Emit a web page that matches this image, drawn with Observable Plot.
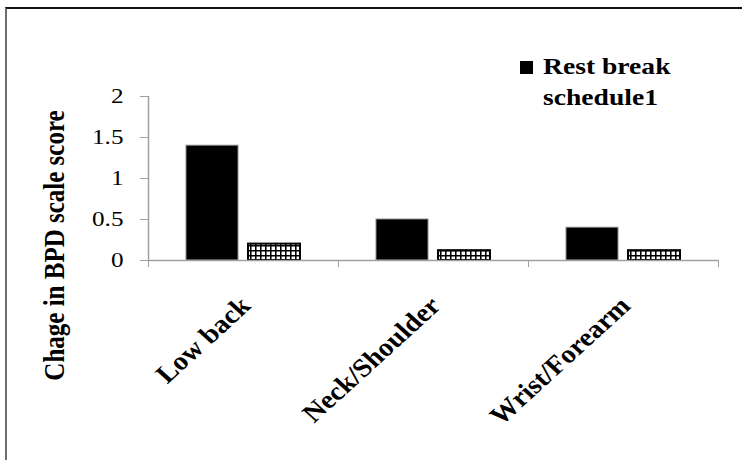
<!DOCTYPE html>
<html><head><meta charset="utf-8">
<script src="https://cdn.jsdelivr.net/npm/d3@7"></script>
<script src="https://cdn.jsdelivr.net/npm/@observablehq/plot@0.6"></script>
<style>
body{margin:0;background:#fff;width:742px;height:460px;overflow:hidden;position:relative;font-family:"Liberation Serif",serif}
#frame{position:absolute;left:5px;top:7px;width:760px;height:470px;border-top:2px solid #111;border-left:2px solid #6e6e6e;}
#chart{position:absolute;left:0;top:0}
.lg{position:absolute;font:bold 23px "Liberation Serif",serif;line-height:26px;white-space:nowrap;transform:scaleX(1.2);transform-origin:left center;color:#000}
.sw{position:absolute;left:520px;top:61px;width:13px;height:13px;background:#000}
</style></head><body>
<div id="frame"></div><div id="chart"></div>
<div class="sw"></div>
<div class="lg" style="left:543px;top:54px">Rest break</div>
<div class="lg" style="left:543px;top:85px">schedule1</div>
<script>
const categories = ["Low back", "Neck/Shoulder", "Wrist/Forearm"];
const series = ["Rest break schedule1", "Rest break schedule2"];
const schedule1 = [1.4, 0.5, 0.4];
const schedule2 = [0.2, 0.12, 0.12];
const yTicks = [0, 0.5, 1, 1.5, 2];
const yLabel = "Chage in BPD scale score";

const rows = categories.flatMap((c, i) => [
  {cat: c, i, s: 0, value: schedule1[i]},
  {cat: c, i, s: 1, value: schedule2[i]}
]);
// layout within each category band (fractions of band)
const outer = 0.2, gap = 0.0526, bw = (1 - 2 * outer - gap) / 2;
const x1 = d => d.i + outer + d.s * (bw + gap);
const x2 = d => x1(d) + bw;

const chart = Plot.plot({
  width: 742, height: 460,
  marginLeft: 148, marginRight: 24, marginTop: 96, marginBottom: 200,
  style: {fontFamily: "Liberation Serif, serif", background: "transparent", color: "#000"},
  x: {domain: [0, categories.length], axis: null},
  y: {domain: [0, 2], axis: null},
  marks: [
    Plot.rectY(rows.filter(d => d.s === 0), {x1, x2, y1: 0, y2: "value", fill: "#000", stroke: "#8a8a8a", strokeWidth: 1}),
    Plot.rectY(rows.filter(d => d.s === 1), {x1, x2, y1: 0, y2: "value", fill: "url(#grid)", stroke: "#000", strokeWidth: 2}),
    Plot.ruleY([0], {stroke: "#a0a0a0", strokeWidth: 1.5}),
    Plot.ruleX([0], {stroke: "#a0a0a0", strokeWidth: 1.5}),
    Plot.axisY({ticks: yTicks, tickSize: 8, tickPadding: 17, fontSize: 21, stroke: "#a0a0a0", fill: "#000",
      tickFormat: d => String(d), label: null}),
    Plot.axisX({ticks: d3.range(categories.length + 1), tickSize: 7, tickFormat: () => "", stroke: "#a0a0a0", label: null}),
    Plot.axisX({ticks: categories.map((c, i) => i + 0.5), tickSize: 0, tickPadding: 41, tickRotate: -45,
      tickFormat: d => categories[Math.floor(d)], fontSize: 26, fontWeight: "bold", fill: "#000", dx: 2, label: null}),
    Plot.text([yLabel], {frameAnchor: "left", textAnchor: "middle", dx: -94, dy: 67, rotate: -90, fontSize: 25, fontWeight: "bold", fill: "#000"})
  ]
});

const svg = d3.select(chart);
const pat = svg.insert("defs", ":first-child").append("pattern")
  .attr("id", "grid").attr("patternUnits", "userSpaceOnUse").attr("width", 5).attr("height", 5);
pat.append("rect").attr("width", 5).attr("height", 5).attr("fill", "#fff");
pat.append("path").attr("d", "M0 0.75H5M0.75 0V5").attr("stroke", "#000").attr("stroke-width", 1.6);

// horizontal stretch of text, as in the reference
svg.selectAll("text").each(function() {
  const SX = categories.includes(this.textContent) ? 1.1 : 1.2;
  const t = this.getAttribute("transform");
  if (t && /^translate\([^)]*\)/.test(t)) {
    this.setAttribute("transform", t.replace(/^(translate\([^)]*\))/, `$1 scale(${SX},1)`));
  } else if (!t) {
    const x = +(this.getAttribute("x") || 0), y = +(this.getAttribute("y") || 0);
    this.removeAttribute("x"); this.removeAttribute("y");
    this.setAttribute("transform", `translate(${x},${y}) scale(${SX},1)`);
  }
});

document.getElementById("chart").appendChild(chart);
</script>
</body></html>
